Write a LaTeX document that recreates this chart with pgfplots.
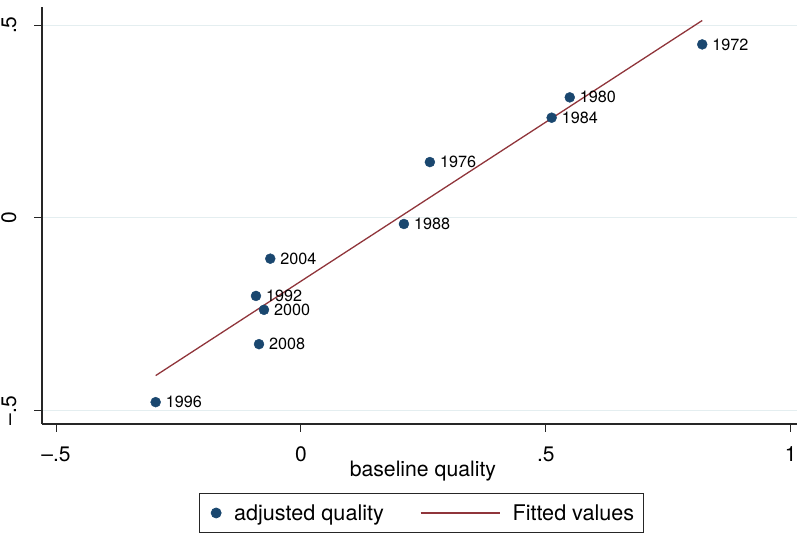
\documentclass[border=0pt]{standalone}
\usepackage{pgfplots}
\pgfplotsset{compat=1.18}
\usepackage{pgfplotstable}
\usepackage{fontspec}
\setmainfont{TeX Gyre Heros}
\definecolor{snavy}{RGB}{26,71,111}
\definecolor{smaroon}{RGB}{144,53,59}
\definecolor{sgrid}{RGB}{228,238,240}

\pgfplotstableread{
x y label
0.8195 0.450 1972
0.549 0.3127 1980
0.512 0.260 1984
0.2634 0.145 1976
0.2104 -0.0155 1988
-0.0625 -0.1054 2004
-0.0917 -0.202 1992
-0.0753 -0.238 2000
-0.0855 -0.327 2008
-0.2965 -0.4774 1996
}\pts

\pgfplotstableread{
x y
-0.2965 -0.4085
0.8195 0.512
}\fit

\begin{document}
\begin{tikzpicture}
\begin{axis}[
  at={(0pt,0pt)}, anchor=south west,
  scale only axis, width=755pt, height=417pt,
  xmin=-0.5286, xmax=1.013, ymin=-0.534, ymax=0.547,
  axis x line*=bottom, axis y line*=left,
  axis line style={line width=1.2pt, black!85, -},
  xtick={-0.5,0,0.5,1}, xticklabels={–.5,0,.5,1},
  ytick={-0.5,0,0.5}, yticklabels={–.5,0,.5},
  tick align=outside, major tick length=8pt,
  tick style={line width=1pt, black!85},
  ymajorgrids, grid style={sgrid, line width=1pt},
  ticklabel style={font=\fontsize{21}{24}\selectfont},
  yticklabel style={xshift=-18pt, rotate=90, anchor=base, inner sep=0pt},
  xticklabel style={yshift=-30pt, anchor=base, inner sep=0pt},
  xlabel={baseline quality},
  xlabel style={font=\fontsize{21.2}{24}\selectfont, at={(axis description cs:0.5045,0)}, anchor=base, yshift=-53pt, inner sep=0pt},
  legend columns=2,
  legend cell align=left,
  legend style={at={(axis description cs:0.5026,-0.2614)}, anchor=south,
    draw=black!85, line width=0.8pt, inner xsep=9pt, inner ysep=11pt,
    font=\fontsize{21.6}{24}\selectfont,
    nodes={inner xsep=0pt, inner ysep=0pt},
    /tikz/every even column/.append style={column sep=36pt}},
]
\addplot[only marks, mark=*, mark size=5pt, snavy,
  point meta=explicit symbolic, nodes near coords,
  every node near coord/.append style={anchor=west, inner sep=0pt, xshift=10pt, yshift=0pt, text=black, font=\fontsize{16.2}{18}\selectfont},
  legend image code/.code={\path[draw=none, fill=none] (0pt,0pt) -- (25.5pt,0pt); \fill[snavy] (7.5pt,0pt) circle (5pt);}
] table[x=x, y=y, meta=label] {\pts};
\addlegendentry{adjusted quality}
\addplot[smaroon, line width=1.3pt, no marks,
  legend image code/.code={\path[draw=none, fill=none] (0pt,0pt) -- (92pt,0pt); \draw[smaroon, line width=1.3pt] (0pt,0pt) -- (79pt,0pt);}
] table[x=x, y=y] {\fit};
\addlegendentry{Fitted values\hspace{8pt}}
\end{axis}
\pgfresetboundingbox
\path[use as bounding box] (-42pt,-110pt) rectangle (756pt,424pt);
\end{tikzpicture}
\end{document}
